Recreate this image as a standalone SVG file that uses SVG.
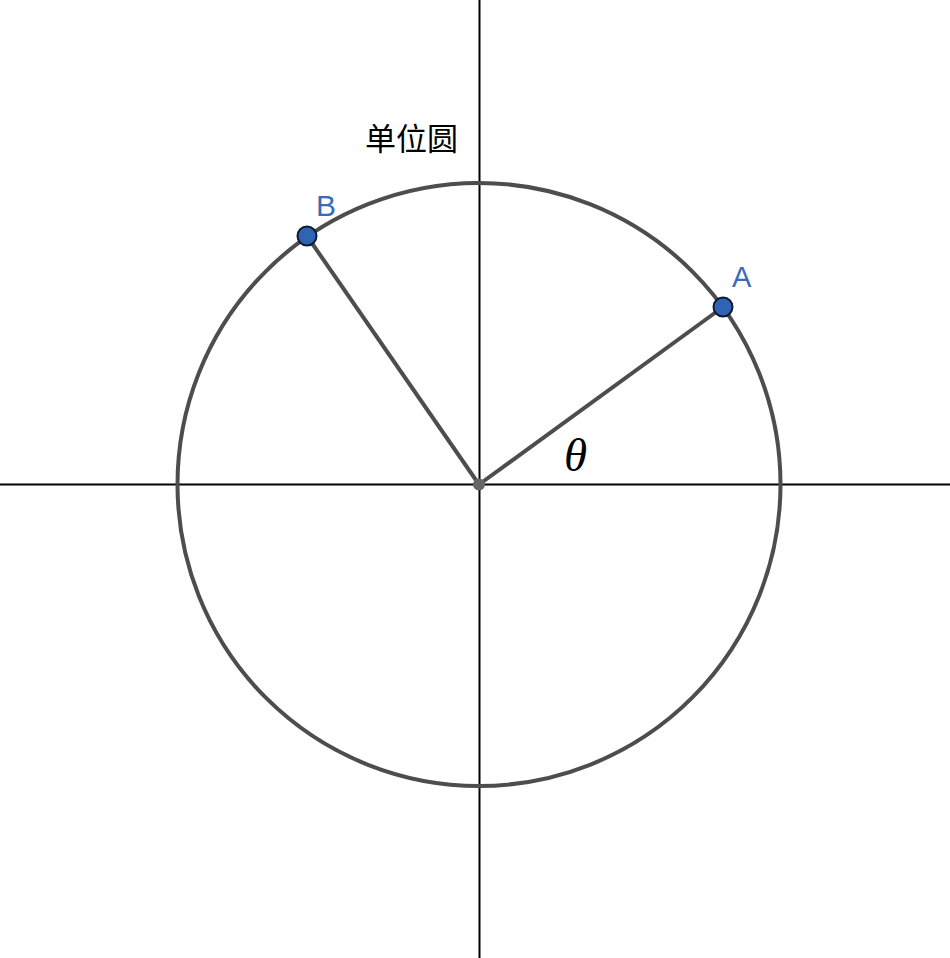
<svg xmlns="http://www.w3.org/2000/svg" width="950" height="958" viewBox="0 0 950 958">
<style>
.axis{stroke:#000;stroke-width:2;fill:none}
.tick{stroke:#000;stroke-width:2}
.geo{stroke:#4d4d4d;stroke-width:4;fill:none}
.pt{fill:#2f64b4;stroke:#0d1a33;stroke-width:2}
.lbl{font-family:"Liberation Sans",Arial,sans-serif;fill:#3a6bb5}
</style>
<rect width="950" height="958" fill="#fff"/>
<g id="axes">
<line class="axis" x1="479.5" y1="0" x2="479.5" y2="958"/>
<line class="axis" x1="0" y1="484.5" x2="950" y2="484.5"/>
<line class="tick" x1="177.5" y1="484" x2="177.5" y2="490"/>
<line class="tick" x1="780.5" y1="484" x2="780.5" y2="490"/>
<line class="tick" x1="473" y1="182.5" x2="480" y2="182.5"/>
<line class="tick" x1="473" y1="785.5" x2="480" y2="785.5"/>
</g>
<g id="circle">
<circle class="geo" cx="479" cy="484.5" r="301.5"/>
</g>
<g id="connectors">
<line class="geo" x1="479" y1="484.5" x2="723" y2="307"/>
<line class="geo" x1="479" y1="484.5" x2="307" y2="236"/>
</g>
<g id="O">
<circle cx="479" cy="484.5" r="6" fill="#666"/>
</g>
<g id="A">
<circle class="pt" cx="723" cy="307" r="9.5"/>
<text class="lbl" x="732" y="287" font-size="29">A</text>
</g>
<g id="B">
<circle class="pt" cx="307" cy="236" r="9.5"/>
<text class="lbl" x="316" y="216" font-size="30">B</text>
</g>
<g id="title">
<text x="365" y="150" font-size="31" font-family="'Noto Sans CJK SC','Noto Sans',sans-serif" fill="#000">单位圆</text>
</g>
<g id="theta">
<text x="564" y="471" font-size="47" font-style="italic" font-family="'Liberation Serif','Times New Roman',serif" fill="#000">θ</text>
</g>
</svg>
